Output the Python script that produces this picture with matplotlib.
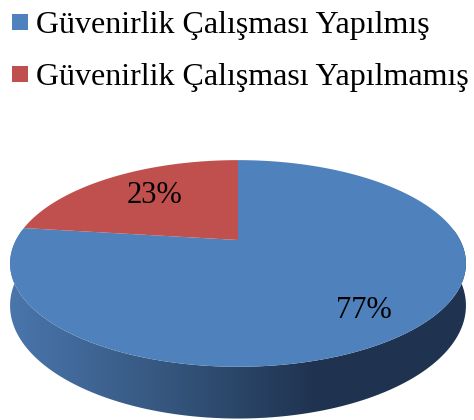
import numpy as np
import matplotlib.pyplot as plt
from matplotlib.patches import Polygon, Rectangle
from matplotlib.colors import LinearSegmentedColormap

# Güvenirlik çalışması dağılımı
etiketler = ['Güvenirlik Çalışması Yapılmış', 'Güvenirlik Çalışması Yapılmamış']
degerler = [77, 23]
renkler = ['#4f81bd', '#c0504d']

fig = plt.figure(figsize=(4.74, 4.20), dpi=100)
ax = fig.add_axes([0, 0, 1, 1])
ax.set_xlim(0, 474)
ax.set_ylim(420, 0)
ax.axis('off')

# 3B pasta geometrisi (perspektifli)
cx, cy = 238, 240
rx, ry = 222, 98
p = 0.227
h = 40
etiket_oran = [0.75, 0.63]


def proj(u, v):
    s = 1 / (1 + p * v)
    return cx + rx * u * s, cy - ry * v * s, s


def rim(t):
    return proj(np.cos(t), np.sin(t))


# yan yüzey
t = np.linspace(np.pi - 0.3, 2 * np.pi + 0.3, 200)
x, y, s = rim(t)
side = np.concatenate([np.c_[x, y], np.c_[x[::-1], (y + h * s)[::-1]]])
side_patch = Polygon(side, closed=True, facecolor='none', edgecolor='none')
ax.add_patch(side_patch)
cmap = LinearSegmentedColormap.from_list('yan', ['#4a76ad', '#36577f', '#1f3350', '#1f3350'])
grad = np.linspace(0, 1, 256).reshape(1, -1)
im = ax.imshow(grad, extent=[8, 470, 425, 230], cmap=cmap, aspect='auto', zorder=1)
im.set_clip_path(side_patch)

# üst yüzey dilimleri (saat yönünde, tepeden başlayarak)
toplam = sum(degerler)
bas = np.pi / 2
for deger, renk, oran in zip(degerler, renkler, etiket_oran):
    son = bas - 2 * np.pi * deger / toplam
    tt = np.linspace(bas, son, 200)
    xx, yy, _ = rim(tt)
    pts = np.vstack([[cx, cy], np.c_[xx, yy]])
    ax.add_patch(Polygon(pts, closed=True, facecolor=renk, edgecolor='none', zorder=2))
    orta = (bas + son) / 2
    lx, ly, _ = proj(oran * np.cos(orta), oran * np.sin(orta))
    ly += h * 0.25 * max(0, -np.sin(orta)) - 4 * max(0, np.sin(orta))
    ax.text(lx, ly, '%d%%' % deger, ha='center', va='center',
            fontsize=22, family='Liberation Serif', zorder=3)
    bas = son

# lejant
for i, (etiket, renk) in enumerate(zip(etiketler, renkler)):
    yb = 33 + i * 52
    ax.add_patch(Rectangle((12, yb - 19), 16, 16, facecolor=renk, edgecolor='none'))
    ax.text(36, yb, etiket, ha='left', va='baseline', fontsize=23, family='Liberation Serif')

fig.savefig('out.png', dpi=100)
